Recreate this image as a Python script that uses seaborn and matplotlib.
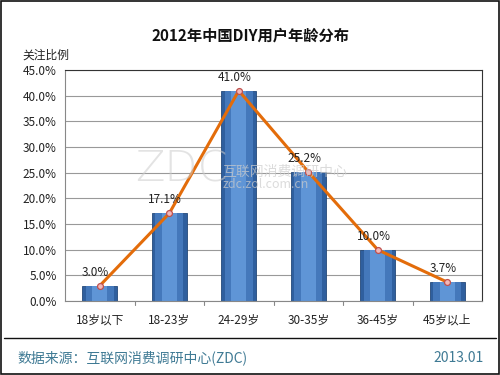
import pandas as pd
import seaborn as sns
import matplotlib.pyplot as plt
from matplotlib.lines import Line2D

# chart data
ages = ["18岁以下", "18-23岁", "24-29岁", "30-35岁", "36-45岁", "45岁以上"]
share = [3.0, 17.1, 41.0, 25.2, 10.0, 3.7]
yticks = [0, 5, 10, 15, 20, 25, 30, 35, 40, 45]

df = pd.DataFrame({"age": ages, "share": share})

sns.set_theme(style="white")
plt.rcParams['font.family'] = ['Noto Sans CJK SC', 'DejaVu Sans']

fig = plt.figure(figsize=(5, 3.75), dpi=100)
ax = fig.add_axes([0.13, 0.197, 0.834, 0.616])

# bars drawn in layers for a rough cylinder shading
sns.barplot(data=df, x="age", y="share", ax=ax, width=0.5, color="#2f5f9e",
            edgecolor="#24497a", linewidth=0.6, saturation=1, zorder=2)
sns.barplot(data=df, x="age", y="share", ax=ax, width=0.4, color="#4478bb",
            linewidth=0, saturation=1, zorder=2)
sns.barplot(data=df, x="age", y="share", ax=ax, width=0.22, color="#5f95d6",
            linewidth=0, saturation=1, zorder=2)

# line on top
x = list(range(len(ages)))
ax.plot(x, share, color="#e36c0a", lw=2.2, zorder=3)
ax.scatter(x, share, s=18, color="#f2b8b8", edgecolor="#c0504d", linewidth=0.9, zorder=4)

for i, v in enumerate(share):
    ax.annotate(f"{v:.1f}%", (i, v), xytext=(-3, 5), textcoords="offset points",
                ha="center", va="bottom", fontsize=8.5, color="#222222", zorder=5)

ax.set_ylim(0, 45)
ax.set_xlim(-0.5, 5.5)
ax.set_yticks(yticks)
ax.set_yticklabels([f"{t:.1f}%" for t in yticks], fontsize=8.5, color="#222222")
ax.tick_params(axis="x", labelsize=8.5, labelcolor="#222222", length=0, pad=9)
ax.tick_params(axis="y", length=0, pad=6)
for b in [0.5, 1.5, 2.5, 3.5, 4.5]:
    ax.plot([b, b], [0, -0.8], color="#888888", lw=0.8, clip_on=False)
ax.yaxis.grid(True, color="#999999", lw=0.8, zorder=0)
ax.set_axisbelow(True)
ax.set_xlabel("")
ax.set_ylabel("")
for s in ax.spines.values():
    s.set_color("#333333")
    s.set_linewidth(0.8)
ax.spines["left"].set_color("#888888")
ax.spines["bottom"].set_color("#888888")

# watermark
fig.text(0.27, 0.515, "ZDC", fontsize=31, color="#cccccc", alpha=0.55, family="DejaVu Sans",
         fontweight="light", zorder=6)
fig.text(0.445, 0.532, "互联网消费调研中心", fontsize=10, color="#cccccc", alpha=0.7, zorder=6)
fig.text(0.445, 0.498, "zdc.zol.com.cn", fontsize=9, color="#cccccc", alpha=0.7, zorder=6)

# titles
fig.text(0.5, 0.905, "2012年中国DIY用户年龄分布", ha="center", va="center",
         fontsize=11, fontweight="bold", color="#111111")
fig.text(0.045, 0.852, "关注比例", ha="left", va="center", fontsize=8.5, color="#222222")

# footer
fig.add_artist(Line2D([0.008, 0.992], [0.099, 0.099], color="#111111", lw=1))
fig.text(0.035, 0.045, "数据来源：互联网消费调研中心(ZDC)", ha="left", va="center",
         fontsize=10, color="#3f7a94")
fig.text(0.968, 0.045, "2013.01", ha="right", va="center", fontsize=10, color="#3f7a94")

# outer frame
fig.add_artist(plt.Rectangle((0.002, 0.002), 0.996, 0.996, fill=False,
                             edgecolor="#111111", lw=1.2, transform=fig.transFigure))

fig.savefig("out.png", dpi=100)
